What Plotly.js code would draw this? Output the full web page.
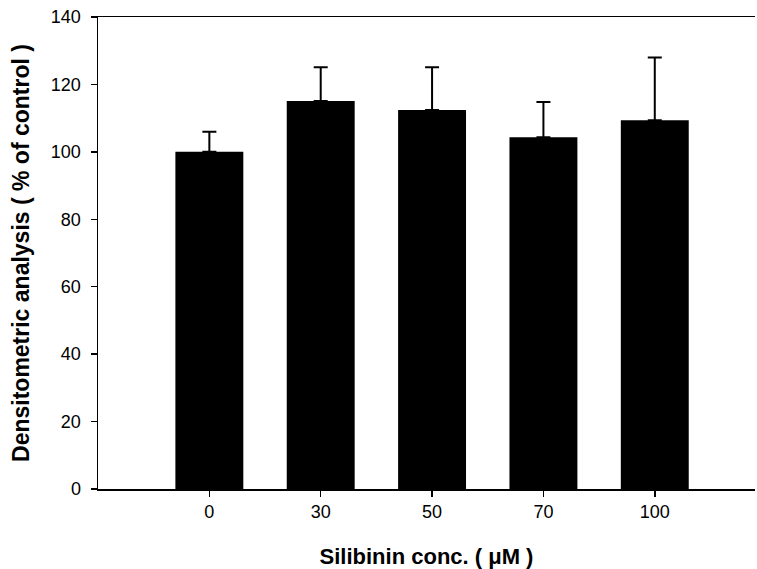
<!DOCTYPE html>
<html>
<head>
<meta charset="utf-8">
<script src="https://cdn.plot.ly/plotly-3.0.1.min.js"></script>
<style>html,body{margin:0;padding:0;background:#fff;}#chart{width:757px;height:569px;}</style>
</head>
<body>
<div id="chart"></div>
<script>
var categories = ["0", "30", "50", "70", "100"];
var values = [100.0, 115.1, 112.4, 104.3, 109.4];
var errorsUp = [6.0, 10.0, 12.7, 10.5, 18.6];
var yTicks = [0, 20, 40, 60, 80, 100, 120, 140];

var trace = {
  type: "bar",
  x: categories,
  y: values,
  width: 0.61,
  marker: {color: "#000000", line: {width: 0}},
  error_y: {
    type: "data",
    symmetric: false,
    array: errorsUp,
    arrayminus: values.map(function(){return 0;}),
    color: "#000000",
    thickness: 2,
    width: 7
  },
  hoverinfo: "skip"
};

var fontFam = "Liberation Sans, Arial, Helvetica, sans-serif";
var layout = {
  width: 757, height: 569,
  margin: {l: 98, r: 2, t: 17, b: 80},
  paper_bgcolor: "#ffffff",
  plot_bgcolor: "#ffffff",
  showlegend: false,
  font: {family: fontFam, color: "#000000", size: 18},
  xaxis: {
    type: "category",
    range: [-1, 4.9],
    showline: true, linecolor: "#000000", linewidth: 1.5,
    mirror: true,
    ticks: "outside", ticklen: 6, tickwidth: 1.5, tickcolor: "#000000",
    showgrid: false, zeroline: false,
    tickfont: {family: fontFam, size: 18, color: "#000000"},
    title: {text: "Silibinin conc. ( \u03bcM )", font: {family: fontFam, size: 22, weight: "bold", color: "#000000"}, standoff: 29}
  },
  yaxis: {
    range: [0, 140],
    tickvals: yTicks,
    showline: true, linecolor: "#000000", linewidth: 1.5,
    ticks: "outside", ticklen: 6, tickwidth: 1.5, tickcolor: "#000000",
    ticklabelstandoff: 6,
    showgrid: false, zeroline: false,
    tickfont: {family: fontFam, size: 18, color: "#000000"},
    title: {text: "Densitometric analysis ( % of control )", font: {family: fontFam, size: 23, weight: "bold", color: "#000000"}, standoff: 15}
  }
};

Plotly.newPlot("chart", [trace], layout, {displayModeBar: false, staticPlot: true});
</script>
</body>
</html>
